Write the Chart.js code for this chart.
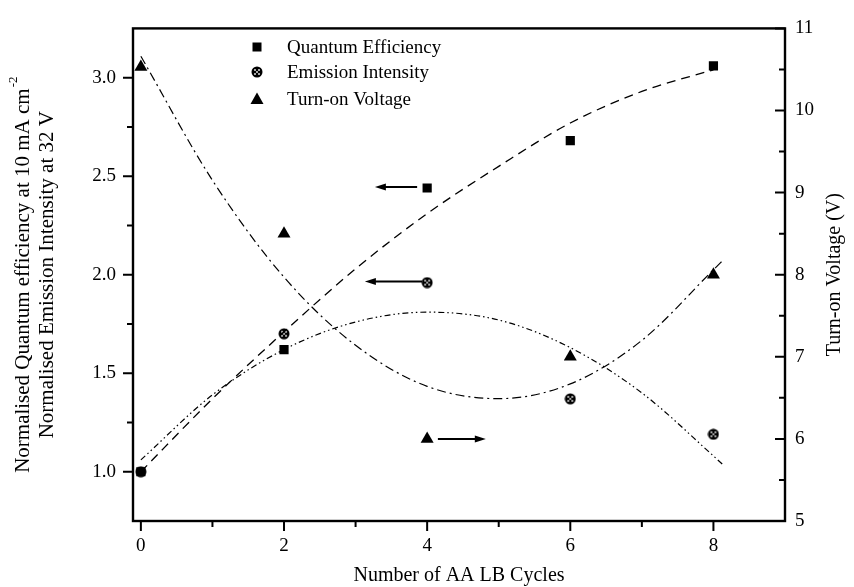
<!DOCTYPE html>
<html><head><meta charset="utf-8">
<script src="https://cdn.jsdelivr.net/npm/chart.js@4"></script>
<style>html,body{margin:0;padding:0;background:#fff}canvas{display:block}</style>
</head><body>
<canvas id="c" width="854" height="587"></canvas>
<script>
// ---- data ----
const cycles = [0, 2, 4, 6, 8];
const quantumEfficiency = [1.00, 1.62, 2.44, 2.68, 3.06];
const emissionIntensity = [1.00, 1.70, 1.96, 1.37, 1.19];
const turnOnVoltage = [10.53, 8.5, 6.0, 7.0, 8.0];
const qeFitCycles = [0, 1, 2, 3, 4, 5, 6, 7, 8];
const qeFit = [1.00, 1.37, 1.71, 2.03, 2.31, 2.55, 2.77, 2.93, 3.04];
const fitCycles = [0, 1, 2, 3, 4, 5, 6, 7, 8, 8.15];
const eiFit = [1.06, 1.39, 1.62, 1.76, 1.81, 1.77, 1.63, 1.40, 1.08, 1.03];
const tvFit = [10.66, 9.15, 7.97, 7.14, 6.64, 6.49, 6.67, 7.20, 8.06, 8.19];
const xTicks = [0, 2, 4, 6, 8];
const xMinor = [1, 3, 5, 7];
const leftTicks = [1.0, 1.5, 2.0, 2.5, 3.0];
const leftMinor = [1.25, 1.75, 2.25, 2.75];
const rightTicks = [5, 6, 7, 8, 9, 10, 11];
const rightMinor = [5.5, 6.5, 7.5, 8.5, 9.5, 10.5];
const legendLabels = ['Quantum Efficiency', 'Emission Intensity', 'Turn-on Voltage'];
const xTitle = 'Number of AA LB Cycles';
const yTitle1 = 'Normalised Quantum efficiency at 10 mA cm';
const yTitle1Sup = '-2';
const yTitle2 = 'Normalised Emission Intensity at 32 V';
const y2Title = 'Turn-on Voltage (V)';
// arrows: x from, x to, y value, axis
const arrowFrom = [3.86, 3.93, 4.15];
const arrowTo = [3.27, 3.13, 4.82];
const arrowY = [2.445, 1.965, 6.0];
const arrowAxis = ['y', 'y', 'y2'];

const FONT = '"Liberation Serif", "Times New Roman", serif';

function makeHatch() {
  const c = document.createElement('canvas');
  c.width = 12; c.height = 12;
  const g = c.getContext('2d');
  g.fillStyle = '#000';
  g.beginPath(); g.arc(6, 6, 5.5, 0, 2 * Math.PI); g.fill();
  g.fillStyle = '#fff';
  [[4, 4], [8, 4], [4, 8], [8, 8], [6, 6]].forEach(([x, y]) => g.fillRect(x - 0.8, y - 0.8, 1.6, 1.6));
  return c;
}
const hatch = makeHatch();

const pts = (xs, ys) => xs.map((x, i) => ({ x: x, y: ys[i] }));

const decor = {
  id: 'decor',
  afterDraw(chart) {
    const ctx = chart.ctx, a = chart.chartArea;
    const sx = chart.scales.x, sy = chart.scales.y, sy2 = chart.scales.y2;
    ctx.save();
    ctx.strokeStyle = '#000'; ctx.fillStyle = '#000';
    ctx.lineWidth = 2.4;
    ctx.strokeRect(a.left, a.top, a.right - a.left, a.bottom - a.top);
    ctx.lineWidth = 2;
    ctx.beginPath();
    xTicks.forEach(v => { const p = sx.getPixelForValue(v); ctx.moveTo(p, a.bottom); ctx.lineTo(p, a.bottom + 10); });
    xMinor.forEach(v => { const p = sx.getPixelForValue(v); ctx.moveTo(p, a.bottom); ctx.lineTo(p, a.bottom + 6); });
    leftTicks.forEach(v => { const p = sy.getPixelForValue(v); ctx.moveTo(a.left, p); ctx.lineTo(a.left - 10, p); });
    leftMinor.forEach(v => { const p = sy.getPixelForValue(v); ctx.moveTo(a.left, p); ctx.lineTo(a.left - 6, p); });
    rightTicks.forEach(v => { const p = sy2.getPixelForValue(v); ctx.moveTo(a.right, p); ctx.lineTo(a.right - 10, p); });
    rightMinor.forEach(v => { const p = sy2.getPixelForValue(v); ctx.moveTo(a.right, p); ctx.lineTo(a.right - 6, p); });
    ctx.stroke();
    // arrows
    ctx.lineWidth = 2;
    arrowFrom.forEach((f, i) => {
      const s = arrowAxis[i] === 'y' ? sy : sy2;
      const x1 = sx.getPixelForValue(f), x2 = sx.getPixelForValue(arrowTo[i]);
      const y = s.getPixelForValue(arrowY[i]);
      const dir = Math.sign(x2 - x1);
      ctx.beginPath(); ctx.moveTo(x1, y); ctx.lineTo(x2 - dir * 8, y); ctx.stroke();
      ctx.beginPath(); ctx.moveTo(x2, y); ctx.lineTo(x2 - dir * 11, y - 3.5); ctx.lineTo(x2 - dir * 11, y + 3.5); ctx.closePath(); ctx.fill();
    });
    // legend
    const lx = 257, ly = [47, 72, 99];
    ctx.fillRect(lx - 4.5, ly[0] - 4.5, 9, 9);
    ctx.drawImage(hatch, lx - 6, ly[1] - 6);
    ctx.beginPath(); ctx.moveTo(lx, ly[2] - 6.5); ctx.lineTo(lx + 6.5, ly[2] + 5); ctx.lineTo(lx - 6.5, ly[2] + 5); ctx.closePath(); ctx.fill();
    ctx.font = '19px ' + FONT;
    ctx.textBaseline = 'middle'; ctx.textAlign = 'left';
    legendLabels.forEach((t, i) => ctx.fillText(t, 287, ly[i] + 1));
    // axis titles
    ctx.font = '20px ' + FONT;
    ctx.textAlign = 'center'; ctx.textBaseline = 'middle';
    ctx.fillText(xTitle, (a.left + a.right) / 2, 576);
    const cy = (a.top + a.bottom) / 2;
    ctx.save();
    ctx.translate(23, cy); ctx.rotate(-Math.PI / 2);
    ctx.font = '21px ' + FONT;
    const w1 = ctx.measureText(yTitle1).width;
    ctx.font = '13px ' + FONT;
    const ws = ctx.measureText(yTitle1Sup).width;
    const tot = w1 + ws + 1;
    ctx.textAlign = 'left';
    ctx.font = '21px ' + FONT;
    ctx.fillText(yTitle1, -tot / 2, 0);
    ctx.font = '13px ' + FONT;
    ctx.fillText(yTitle1Sup, -tot / 2 + w1 + 1, -9);
    ctx.restore();
    ctx.save();
    ctx.translate(47, cy); ctx.rotate(-Math.PI / 2);
    ctx.font = '21px ' + FONT; ctx.textAlign = 'center';
    ctx.fillText(yTitle2, 0, 0);
    ctx.restore();
    ctx.save();
    ctx.translate(835, cy); ctx.rotate(-Math.PI / 2);
    ctx.font = '20px ' + FONT; ctx.textAlign = 'center';
    ctx.fillText(y2Title, 0, 0);
    ctx.restore();
    ctx.restore();
  }
};

const tickFont = { family: FONT, size: 19 };
const gridOpts = { display: false, drawTicks: false };

new Chart(document.getElementById('c'), {
  type: 'scatter',
  data: {
    datasets: [
      { label: 'QE fit', data: pts(qeFitCycles, qeFit), showLine: true, borderColor: '#000', borderWidth: 1.3, borderDash: [9, 6], pointRadius: 0, cubicInterpolationMode: 'monotone', yAxisID: 'y' },
      { label: 'EI fit', data: pts(fitCycles, eiFit), showLine: true, borderColor: '#000', borderWidth: 1.2, borderDash: [6, 3, 1.5, 3, 1.5, 3], pointRadius: 0, cubicInterpolationMode: 'monotone', yAxisID: 'y' },
      { label: 'TV fit', data: pts(fitCycles, tvFit), showLine: true, borderColor: '#000', borderWidth: 1.2, borderDash: [9, 4, 2, 4], pointRadius: 0, cubicInterpolationMode: 'monotone', yAxisID: 'y2' },
      { label: legendLabels[0], data: pts(cycles, quantumEfficiency), pointStyle: 'rect', pointRadius: 6.5, backgroundColor: '#000', borderColor: '#000', borderWidth: 0, yAxisID: 'y' },
      { label: legendLabels[1], data: pts(cycles, emissionIntensity), pointStyle: hatch, pointRadius: 6, yAxisID: 'y' },
      { label: legendLabels[2], data: pts(cycles, turnOnVoltage), pointStyle: 'triangle', pointRadius: 7.5, backgroundColor: '#000', borderColor: '#000', borderWidth: 0, yAxisID: 'y2' }
    ]
  },
  options: {
    responsive: false, devicePixelRatio: 1, animation: false,
    layout: { padding: { top: 23, left: 0, right: 0, bottom: 0 } },
    plugins: { legend: { display: false }, tooltip: { enabled: false } },
    scales: {
      x: { type: 'linear', min: -0.11, max: 9.0,
        afterBuildTicks: s => { s.ticks = xTicks.map(v => ({ value: v })); },
        afterFit: s => { s.height = 66; },
        ticks: { font: tickFont, color: '#000', padding: 14, maxRotation: 0, autoSkip: false, callback: v => String(v) },
        grid: gridOpts, border: { display: false } },
      y: { position: 'left', min: 0.75, max: 3.25,
        afterBuildTicks: s => { s.ticks = leftTicks.map(v => ({ value: v })); },
        afterFit: s => { s.width = 133; },
        ticks: { font: tickFont, color: '#000', padding: 17, autoSkip: false, callback: v => v.toFixed(1) },
        grid: gridOpts, border: { display: false } },
      y2: { position: 'right', min: 5, max: 11,
        afterBuildTicks: s => { s.ticks = rightTicks.map(v => ({ value: v })); },
        afterFit: s => { s.width = 69; },
        ticks: { font: tickFont, color: '#000', padding: 10, autoSkip: false, callback: v => String(v) },
        grid: gridOpts, border: { display: false } }
    }
  },
  plugins: [decor]
});
</script>
</body></html>
